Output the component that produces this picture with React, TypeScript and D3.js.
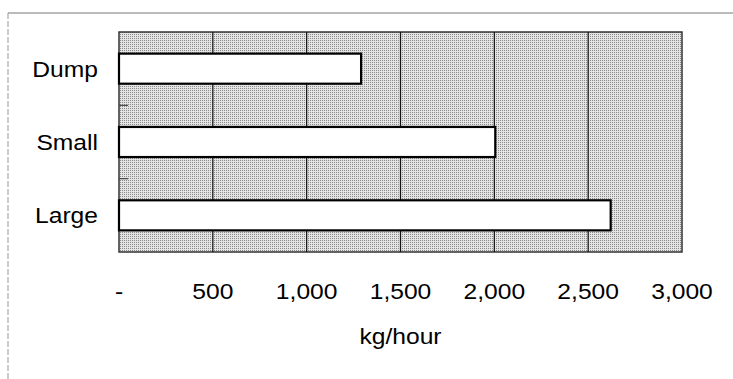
import React, { useRef, useEffect } from 'react'
import * as d3 from 'd3'

const categories = ['Dump', 'Small', 'Large']
const rates = [1290, 2005, 2620]
const tickValues = [0, 500, 1000, 1500, 2000, 2500, 3000]
const axisTitle = 'kg/hour'

export default function App() {
  const svgRef = useRef<SVGSVGElement>(null)
  const width = 733
  const height = 379
  const margin = { top: 32, right: 51, bottom: 127, left: 119 }
  const font = '"Liberation Sans", Arial, sans-serif'
  const stretch = 1.12

  useEffect(() => {
    const svg = d3.select(svgRef.current)
    svg.selectAll('*').remove()

    const plotW = width - margin.left - margin.right
    const plotH = height - margin.top - margin.bottom

    const x = d3.scaleLinear().domain([0, 3000]).range([margin.left, margin.left + plotW])
    const y = d3.scaleBand<string>()
      .domain(categories)
      .range([margin.top, margin.top + plotH])
      .paddingInner(0.59)
      .paddingOuter(0.295)

    // dithered grey look of the scanned plot area
    const defs = svg.append('defs')
    const pat = defs.append('pattern')
      .attr('id', 'dither')
      .attr('width', 2)
      .attr('height', 2)
      .attr('patternUnits', 'userSpaceOnUse')
    pat.append('rect').attr('width', 2).attr('height', 2).attr('fill', '#e4e4e4')
    pat.append('rect').attr('width', 1).attr('height', 1).attr('fill', '#8a8a8a')

    // outer frame (only top and left survived the scan)
    svg.append('line')
      .attr('x1', 8).attr('x2', width).attr('y1', 13).attr('y2', 13)
      .attr('stroke', '#777').attr('stroke-width', 1)
    svg.append('line')
      .attr('x1', 8).attr('x2', 8).attr('y1', 13).attr('y2', height)
      .attr('stroke', '#999').attr('stroke-width', 1).attr('stroke-dasharray', '6 2')

    svg.append('rect')
      .attr('x', margin.left).attr('y', margin.top)
      .attr('width', plotW).attr('height', plotH)
      .attr('fill', 'url(#dither)')
      .attr('stroke', '#333').attr('stroke-width', 1.5)

    // gridlines
    svg.selectAll('.grid')
      .data(tickValues.slice(1, -1))
      .join('line')
      .attr('class', 'grid')
      .attr('x1', d => x(d)).attr('x2', d => x(d))
      .attr('y1', margin.top).attr('y2', margin.top + plotH)
      .attr('stroke', '#111').attr('stroke-width', 1.2)

    // small category ticks on the left edge
    const step = y.step()
    svg.selectAll('.ctick')
      .data(d3.range(1, categories.length))
      .join('line')
      .attr('class', 'ctick')
      .attr('x1', margin.left).attr('x2', margin.left + 9)
      .attr('y1', i => margin.top + i * step).attr('y2', i => margin.top + i * step)
      .attr('stroke', '#444').attr('stroke-width', 1.2)

    // bars
    svg.selectAll('.bar')
      .data(categories)
      .join('rect')
      .attr('class', 'bar')
      .attr('x', x(0))
      .attr('y', d => y(d)!)
      .attr('width', (d, i) => x(rates[i]) - x(0))
      .attr('height', y.bandwidth())
      .attr('fill', '#fff')
      .attr('stroke', '#000')
      .attr('stroke-width', 2.2)

    // category labels
    svg.selectAll('.clabel')
      .data(categories)
      .join('g')
      .attr('class', 'clabel')
      .attr('transform', d => `translate(98,${y(d)! + y.bandwidth() / 2}) scale(${stretch},1)`)
      .append('text')
      .attr('text-anchor', 'end')
      .attr('dy', '0.36em')
      .attr('font-family', font)
      .attr('font-size', 22)
      .attr('fill', '#000')
      .text(d => d)

    // value axis labels
    const fmt = d3.format(',')
    svg.selectAll('.xlabel')
      .data(tickValues)
      .join('g')
      .attr('class', 'xlabel')
      .attr('transform', d => `translate(${x(d)},299) scale(${stretch},1)`)
      .append('text')
      .attr('text-anchor', 'middle')
      .attr('font-family', font)
      .attr('font-size', 22)
      .attr('fill', '#000')
      .text(d => (d === 0 ? '-' : fmt(d)))

    svg.append('g')
      .attr('transform', `translate(${margin.left + plotW / 2},344) scale(${stretch},1)`)
      .append('text')
      .attr('text-anchor', 'middle')
      .attr('font-family', font)
      .attr('font-size', 22)
      .attr('fill', '#000')
      .text(axisTitle)
  }, [])

  return (
    <svg
      ref={svgRef}
      width={width}
      height={height}
      style={{ position: 'absolute', left: 0, top: 0, background: '#fff' }}
    />
  )
}
